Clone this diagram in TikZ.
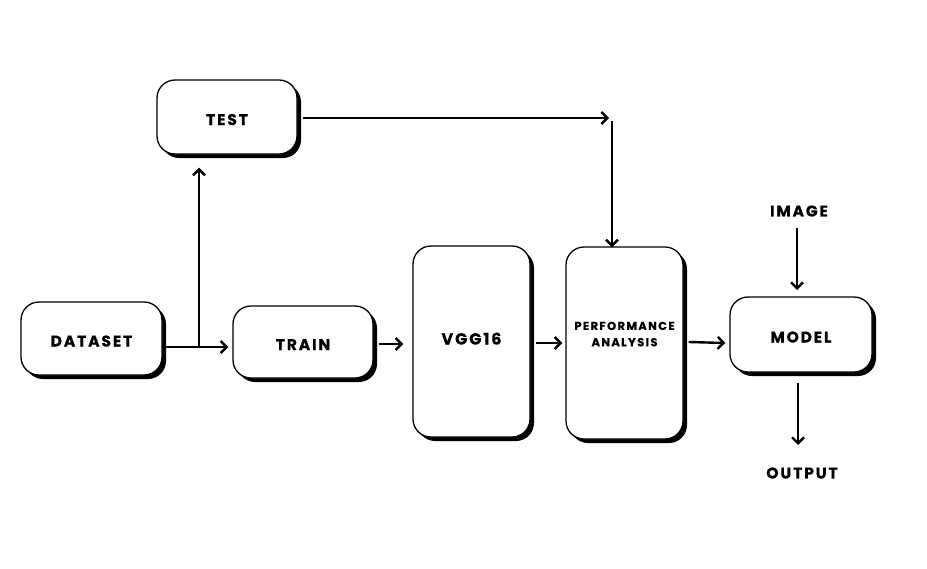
\documentclass[tikz,border=0pt]{standalone}
\usepackage{fontspec}
\newfontfamily\lblfont{Poppins}[LetterSpace=12, BoldFeatures={FakeBold=0.5}]
\usetikzlibrary{arrows.meta,shadows}

\tikzset{
	blockbox/.style={draw, line width=1.3pt, rounded corners=18pt, fill=white,
		drop shadow={shadow xshift=4pt, shadow yshift=-4pt, fill=black, opacity=1},
		font=\lblfont\bfseries\fontsize{15.5}{18}\selectfont, align=center, inner sep=0pt,
		text height=16pt, text depth=0pt},
	plainlbl/.style={font=\lblfont\bfseries\fontsize{15.5}{18}\selectfont},
	flow/.style={line width=2.4pt, -{Straight Barb[length=6pt,width=12pt,line width=2.4pt]}},
}

\begin{document}
\begin{tikzpicture}[x=1pt,y=-1pt]
		\fill[white] (0,0) rectangle (927,568);
		\useasboundingbox (0,0) rectangle (927,568);
		% blocks
		\node[blockbox, minimum width=140pt, minimum height=74pt] (test) at (227,117) {TEST};
		\node[blockbox, minimum width=141pt, minimum height=73pt] (dataset) at (91.5,338.5) {DATASET};
		\node[blockbox, minimum width=140pt, minimum height=72pt] (train) at (303,342) {TRAIN};
		\node[blockbox, minimum width=117pt, minimum height=191pt, font=\lblfont\bfseries\fontsize{16}{18}\selectfont] (vgg) at (471.5,341.5) {\raisebox{5pt}{VGG16}};
		\node[blockbox, minimum width=117pt, minimum height=192pt, text height={}, text depth={}, font=\lblfont\bfseries\fontsize{11.5}{16}\selectfont] (perf) at (624.5,343) {\raisebox{18pt}{\shortstack{PERFORMANCE\\[5pt]ANALYSIS}}};
		\node[blockbox, minimum width=142pt, minimum height=75pt] (model) at (801,334.5) {MODEL};
		% free texts
		\node[plainlbl] (image) at (799,211) {IMAGE};
		\node[plainlbl] (output) at (802,473) {OUTPUT};
		\coordinate (split) at (199,347);
		\coordinate (corner) at (609,118);
		\coordinate (drop) at (612,121);
		\coordinate (imgtail) at (797,228);
		\coordinate (imghead) at (797,290);
		\coordinate (outtail) at (798,383);
		\coordinate (outhead) at (798,445);
		% connectors
		\draw[flow] (dataset.east |- split) -- ([xshift=-4pt]train.west |- split);
		\draw[flow] (split) -- ([yshift=-13pt]test.south -| split);
		\draw[flow] ([xshift=5pt]test.east |- corner) -- (corner);
		\draw[flow] (drop) -- ([yshift=-1pt]perf.north -| drop);
		\draw[flow] ([xshift=5pt]train.east |- 0,344) -- ([xshift=-9pt]vgg.west |- 0,344);
		\draw[flow] ([xshift=5pt]vgg.east |- 0,343) -- ([xshift=-3pt]perf.west |- 0,343);
		\draw[flow] ([xshift=5pt]perf.east |- 0,342) -- ([xshift=-4pt]model.west |- 0,343);
		\draw[flow] (imgtail) -- (imghead);
		\draw[flow] (outtail) -- (outhead);
	\end{tikzpicture}
\end{document}
